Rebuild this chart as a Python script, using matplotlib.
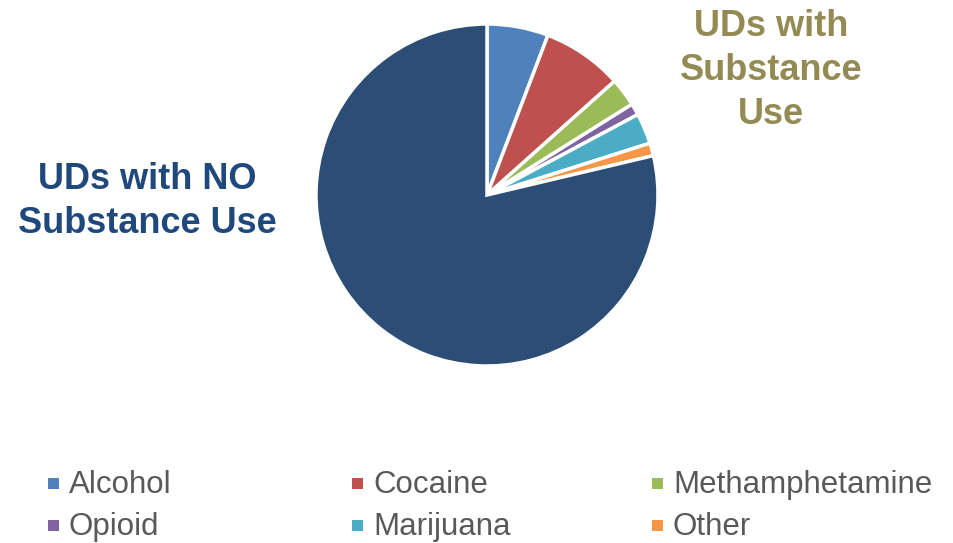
import matplotlib.pyplot as plt
from matplotlib.patches import Rectangle

# Urine drug screens: share of each result
labels = ['Alcohol', 'Cocaine', 'Methamphetamine', 'Opioid', 'Marijuana', 'Other']
values = [5.8, 7.6, 2.7, 1.1, 2.9, 1.2]
no_use_lines = ['UDs with NO', 'Substance Use']
no_use_value = 78.7
use_lines = ['UDs with', 'Substance', 'Use']

colors = ['#4F81BD', '#C0504D', '#9BBB59', '#8064A2', '#4BACC6', '#F79646']
no_use_color = '#2C4D75'

plt.rcParams['font.family'] = ['Liberation Sans', 'DejaVu Sans']

W, H = 954, 543
fig = plt.figure(figsize=(W / 100, H / 100), dpi=100)

# pie centre (487, 195) px, radius 171 px
cx, cy, r = 487, 195, 171
ax = fig.add_axes([(cx - r) / W, (H - cy - r) / H, 2 * r / W, 2 * r / H])
ax.pie(values + [no_use_value], colors=colors + [no_use_color],
       startangle=90, counterclock=False, radius=1,
       wedgeprops=dict(edgecolor='white', linewidth=2.5))
ax.set_xlim(-1, 1)
ax.set_ylim(-1, 1)
ax.axis('off')

# big category labels, one baseline per line (44 px apart)
for k, line in enumerate(no_use_lines):
    fig.text(147 / W, 1 - (189 + 44 * k) / H, line, ha='center', va='baseline',
             fontsize=26, fontweight='bold', color='#1F497D')
for k, line in enumerate(use_lines):
    fig.text(771 / W, 1 - (36 + 44 * k) / H, line, ha='center', va='baseline',
             fontsize=26, fontweight='bold', color='#948A54')

# legend, 3 columns x 2 rows
col_x = [48, 352, 652]
row_y = [493, 535]
for i, (lab, col) in enumerate(zip(labels, colors)):
    x = col_x[i % 3]
    y = row_y[i // 3]
    fig.patches.append(Rectangle((x / W, 1 - (y - 4) / H), 11 / W, 11 / H,
                                 transform=fig.transFigure, facecolor=col,
                                 edgecolor='none'))
    fig.text((x + 21) / W, 1 - y / H, lab, ha='left', va='baseline',
             fontsize=22.5, color='#595959')

fig.savefig('out.png', dpi=100)
